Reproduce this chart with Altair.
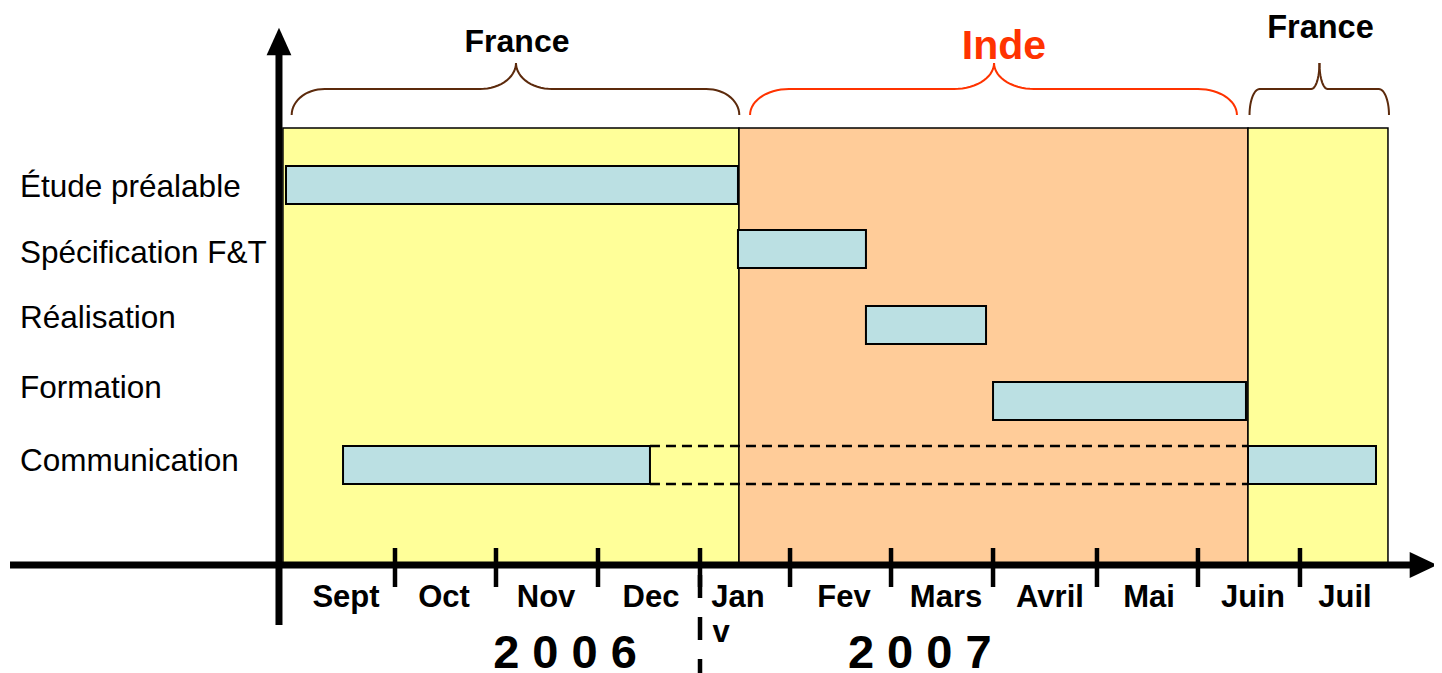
import altair as alt
import pandas as pd
import numpy as np

# ---------------- data (x in months from 1 Sept 2006, y in lane units above the time axis) -------------
X_DOMAIN = [-2.8128, 11.2365]
Y_DOMAIN = [-2.16, 11.14]

period_names = ["France", "Inde", "France"]
period_start = [-0.104, 4.389, 9.404]
period_end = [4.389, 9.404, 10.783]
period_fill = ["#FFFF99", "#FFCC99", "#FFFF99"]
period_top = 8.74

tasks = ["Étude préalable", "Spécification F&T", "Réalisation", "Formation", "Communication"]
task_label_y = [7.54, 6.22, 4.92, 3.52, 2.06]

bar_task = ["Étude préalable", "Spécification F&T", "Réalisation", "Formation",
            "Communication", "Communication"]
bar_start = [-0.074, 4.379, 5.640, 6.892, 0.488, 9.404]
bar_end = [4.379, 5.640, 6.823, 9.384, 3.512, 10.665]
bar_bottom = [7.22, 5.94, 4.42, 2.90, 1.62, 1.62]
bar_top = [7.98, 6.70, 5.18, 3.66, 2.38, 2.38]

dash_start = [3.512, 3.512]
dash_end = [9.404, 9.404]
dash_y = [2.38, 1.62]

months = ["Sept", "Oct", "Nov", "Dec", "Jan", "Fev", "Mars", "Avril", "Mai", "Juin", "Juil"]
month_pos = [0.517, 1.483, 2.488, 3.522, 4.379, 5.424, 6.429, 7.453, 8.429, 9.453, 10.360]
month_y = -0.66
tick_pos = [1.0, 1.995, 3.0, 4.005, 4.892, 5.887, 6.892, 7.916, 8.911, 9.916]

years = ["2 0 0 6", "2 0 0 7"]
year_pos = [2.675, 6.17]
year_y = -2.05

# braces above the periods
brace_label = ["France", "Inde", "France"]
brace_start = [-0.018, 4.498, 9.419]
brace_end = [4.392, 9.295, 10.793]
brace_cusp = [2.192, 6.902, 10.108]
brace_end_r = [0.325, 0.384, 0.10]
brace_cusp_r = [0.355, 0.394, 0.08]
brace_color = ["#5C2A0C", "#FF3300", "#5C2A0C"]
brace_label_x = [2.202, 7.0, 10.118]
brace_label_y = [10.46, 10.36, 10.74]
brace_label_size = [32, 41, 32.5]
brace_y_bottom, brace_y_flat, brace_y_cusp = 9.0, 9.52, 10.04

FONT = "Liberation Sans"

xs = alt.Scale(domain=X_DOMAIN, nice=False, zero=False)
ys = alt.Scale(domain=Y_DOMAIN, nice=False, zero=False)


def X(f):
    return alt.X(f, type="quantitative", scale=xs, axis=None)


def Y(f):
    return alt.Y(f, type="quantitative", scale=ys, axis=None)


# ---------------- tables ----------------
periods = pd.DataFrame({"name": period_names, "start": period_start, "end": period_end,
                        "fill": period_fill, "y0": 0.0, "y1": period_top})
bars = pd.DataFrame({"task": bar_task, "start": bar_start, "end": bar_end,
                     "y0": bar_bottom, "y1": bar_top})
dashes = pd.DataFrame({"start": dash_start, "end": dash_end, "y": dash_y})
labels = pd.DataFrame({"task": tasks, "x": X_DOMAIN[0] + 0.118, "y": task_label_y})
month_df = pd.DataFrame({"m": months, "x": month_pos, "y": month_y})
tick_df = pd.DataFrame({"x": tick_pos, "y0": 0.34, "y1": -0.44})
year_df = pd.DataFrame({"t": years, "x": year_pos, "y": year_y})

rows = []
t = np.linspace(0, np.pi / 2, 16)
for i in range(3):
    a, b, m = brace_start[i], brace_end[i], brace_cusp[i]
    r1, r2 = brace_end_r[i], brace_cusp_r[i]
    h1 = brace_y_flat - brace_y_bottom
    h2 = brace_y_cusp - brace_y_flat
    for side, end in (("L", a), ("R", b)):
        s = 1 if side == "L" else -1
        pts = []
        for tt in t:
            pts.append((end + s * (r1 - r1 * np.cos(tt)), brace_y_bottom + h1 * np.sin(tt)))
        for tt in t:
            pts.append((m - s * r2 + s * r2 * np.sin(tt), brace_y_cusp - h2 * np.cos(tt)))
        for k, (px, py) in enumerate(pts):
            rows.append({"id": f"{i}{side}", "k": k, "x": px, "y": py, "c": brace_color[i]})
brace_df = pd.DataFrame(rows)
brace_lab = pd.DataFrame({"t": brace_label, "x": brace_label_x, "y": brace_label_y,
                          "c": ["#000000", "#FF3300", "#000000"], "s": brace_label_size})

# ---------------- layers ----------------
period_layer = alt.Chart(periods).mark_rect(stroke="black", strokeWidth=1.5).encode(
    x=X("start"), x2="end", y=Y("y0"), y2="y1",
    fill=alt.Fill("fill:N", scale=None))

bar_layer = alt.Chart(bars).mark_rect(fill="#BBE0E3", stroke="black", strokeWidth=2).encode(
    x=X("start"), x2="end", y=Y("y0"), y2="y1")

dash_layer = alt.Chart(dashes).mark_rule(color="black", strokeWidth=2.5, strokeDash=[10, 6]).encode(
    x=X("start"), x2="end", y=Y("y"))

label_layer = alt.Chart(labels).mark_text(align="left", baseline="middle", font=FONT,
                                          fontSize=31.5, color="black").encode(
    x=X("x"), y=Y("y"), text="task:N")

haxis = alt.Chart(pd.DataFrame({"a": [-2.793], "b": [11.03], "y": [0.0]})).mark_rule(
    color="black", strokeWidth=7).encode(x=X("a"), x2="b", y=Y("y"))
vaxis = alt.Chart(pd.DataFrame({"x": [-0.143], "a": [-1.2], "b": [10.3]})).mark_rule(
    color="black", strokeWidth=7).encode(x=X("x"), y=Y("a"), y2="b")
harrow = alt.Chart(pd.DataFrame({"x": [11.133], "y": [0.0]})).mark_point(
    shape="M1,0L-1,-0.95L-1,0.95Z", size=760, filled=True, color="black", opacity=1).encode(
    x=X("x"), y=Y("y"))
varrow = alt.Chart(pd.DataFrame({"x": [-0.143], "y": [10.47]})).mark_point(
    shape="M0,-1L0.9,1L-0.9,1Z", size=760, filled=True, color="black", opacity=1).encode(
    x=X("x"), y=Y("y"))

tick_layer = alt.Chart(tick_df).mark_rule(color="black", strokeWidth=4.5).encode(
    x=X("x"), y=Y("y0"), y2="y1")
sep_layer = alt.Chart(pd.DataFrame({"x": [4.005], "a": [-0.2], "b": [-2.16]})).mark_rule(
    color="black", strokeWidth=4.5, strokeDash=[23, 19]).encode(x=X("x"), y=Y("a"), y2="b")

month_layer = alt.Chart(month_df).mark_text(align="center", baseline="middle", font=FONT,
                                            fontSize=31, fontWeight="bold", color="black").encode(
    x=X("x"), y=Y("y"), text="m:N")
v_layer = alt.Chart(pd.DataFrame({"t": ["v"], "x": [4.212], "y": [-1.36]})).mark_text(
    align="center", baseline="middle", font=FONT, fontSize=31, fontWeight="bold",
    color="black").encode(x=X("x"), y=Y("y"), text="t:N")
year_layer = alt.Chart(year_df).mark_text(align="center", baseline="alphabetic", font=FONT,
                                          fontSize=47, fontWeight="bold", color="black").encode(
    x=X("x"), y=Y("y"), text="t:N")

brace_layer = alt.Chart(brace_df).mark_line(strokeWidth=2).encode(
    x=X("x"), y=Y("y"), detail="id:N", order="k:Q",
    color=alt.Color("c:N", scale=None))
brace_text = alt.Chart(brace_lab).mark_text(align="center", baseline="middle", font=FONT,
                                            fontWeight="bold").encode(
    x=X("x"), y=Y("y"), text="t:N",
    color=alt.Color("c:N", scale=None),
    size=alt.Size("s:Q", scale=None))

chart = alt.layer(
    period_layer, bar_layer, dash_layer, label_layer, haxis, vaxis, harrow, varrow,
    tick_layer, sep_layer, month_layer, v_layer, year_layer, brace_layer, brace_text
).properties(width=1426, height=665, padding=0, autosize="none").configure_view(stroke=None)

chart.save("out.html", embed_options={"renderer": "svg", "actions": False})
